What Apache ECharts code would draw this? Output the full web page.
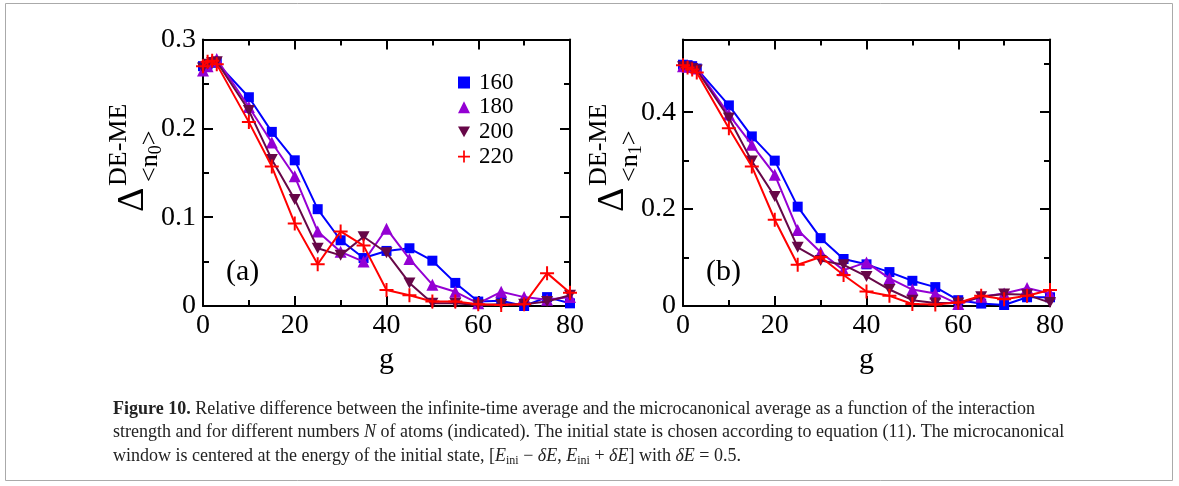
<!DOCTYPE html>
<html><head><meta charset="utf-8">
<script src="https://cdn.jsdelivr.net/npm/echarts@6/dist/echarts.min.js"></script>
<style>html,body{margin:0;padding:0;background:#fff}#c{width:1179px;height:486px}</style>
</head><body><div id="c"></div>
<script>
const gVals = [0,1,2,3,10,15,20,25,30,35,40,45,50,55,60,65,70,75,80];
const seriesNames = ['160','180','200','220'];
const a160 = [0.270,0.272,0.274,0.274,0.235,0.196,0.164,0.109,0.074,0.054,0.062,0.065,0.051,0.026,0.005,0.006,0.000,0.010,0.003];
const a180 = [0.265,0.270,0.276,0.278,0.224,0.184,0.146,0.084,0.061,0.050,0.087,0.053,0.024,0.016,0.003,0.016,0.010,0.007,0.010];
const a200 = [0.268,0.272,0.274,0.275,0.220,0.165,0.120,0.065,0.057,0.078,0.060,0.026,0.003,0.003,0.001,0.002,0.002,0.005,0.012];
const a220 = [0.270,0.275,0.276,0.272,0.207,0.157,0.093,0.047,0.084,0.068,0.018,0.012,0.005,0.005,0.002,0.001,0.002,0.037,0.015];
const b160 = [0.498,0.497,0.495,0.490,0.414,0.350,0.300,0.205,0.140,0.097,0.086,0.070,0.052,0.039,0.012,0.005,0.002,0.018,0.018];
const b180 = [0.495,0.494,0.493,0.490,0.395,0.333,0.271,0.157,0.111,0.074,0.090,0.057,0.034,0.026,0.004,0.019,0.026,0.037,0.026];
const b200 = [0.494,0.493,0.490,0.487,0.388,0.299,0.226,0.121,0.094,0.085,0.061,0.034,0.012,0.006,0.006,0.019,0.025,0.023,0.007];
const b220 = [0.497,0.492,0.488,0.482,0.367,0.288,0.178,0.085,0.101,0.064,0.030,0.021,0.004,0.003,0.007,0.021,0.014,0.021,0.033];
const xTicks = [0,20,40,60,80];
const yTicksA = [0,0.1,0.2,0.3];
const yTicksB = [0,0.2,0.4];
const yMinorB = [0.1,0.3,0.5];
const captionLines = [
  '{b|Figure 10.} Relative difference between the infinite-time average and the microcanonical average as a function of the interaction',
  'strength and for different numbers {i|N} of atoms (indicated). The initial state is chosen according to equation ({l|11}). The microcanonical',
  'window is centered at the energy of the initial state, [{i|E}{s|ini} − {i|δE}, {i|E}{s|ini} + {i|δE}] with {i|δE} = 0.5.'
];

const colors = ['#0000ff','#9400d3','#670748','#ff0000'];
const downTri = 'path://M0,0L10,0L5,9Z';
const plus = 'path://M6,0H8V6H14V8H8V14H6V8H0V6H6Z';
const symbols = ['rect','triangle',downTri,plus];
const symSizes = [10,12,[12,11],14];
const FONT = 'Liberation Serif';

const chart = echarts.init(document.getElementById('c'));

const grids = [
  {left:203, top:39.5, width:367, height:266.5},
  {left:683, top:39.5, width:367, height:266.5}
];
function xAx(gi, pos, labels){
  return {type:'value', gridIndex:gi, position:pos, min:0, max:80, interval:20,
    axisLine:{show:true, onZero:false, lineStyle:{color:'#000', width:2}},
    axisTick:{show:true, inside:true, length:10, lineStyle:{color:'#000', width:2}},
    minorTick:{show:true, splitNumber:2, length:6, lineStyle:{color:'#000', width:2}},
    splitLine:{show:false},
    axisLabel:{show:labels, margin:6, fontFamily:FONT, fontSize:28, color:'#000', customValues: xTicks},
    name: labels ? 'g' : '', nameLocation:'middle', nameGap:29,
    nameTextStyle:{fontFamily:FONT, fontSize:30, color:'#000'}};
}
function yAxA(pos, labels){
  return {type:'value', gridIndex:0, position:pos, min:0, max:0.3, interval:0.1,
    axisLine:{show:true, onZero:false, lineStyle:{color:'#000', width:2}},
    axisTick:{show:true, inside:true, length:10, lineStyle:{color:'#000', width:2}},
    minorTick:{show:true, splitNumber:2, length:6, lineStyle:{color:'#000', width:2}},
    splitLine:{show:false},
    axisLabel:{show:labels, margin:7, fontFamily:FONT, fontSize:28, color:'#000',
      customValues: yTicksA}};
}
function yAxB(pos, labels, minor){
  return {type:'value', gridIndex:1, position:pos, min:0, max:0.55, interval:0.1,
    axisLine:{show:!minor, onZero:false, lineStyle:{color:'#000', width:2}},
    axisTick:{show:true, inside:true, length: minor?6:10, lineStyle:{color:'#000', width:2},
      customValues: minor ? yMinorB : yTicksB},
    splitLine:{show:false},
    axisLabel:{show:labels, margin:7, fontFamily:FONT, fontSize:28, color:'#000',
      customValues: yTicksB}};
}

const aData = [a160,a180,a200,a220];
const bData = [b160,b180,b200,b220];
const series = [];
[aData,bData].forEach((set, p) => {
  set.forEach((vals, i) => {
    series.push({
      type:'line', name: seriesNames[i],
      xAxisIndex: p===0?0:2, yAxisIndex: p===0?0:2,
      data: gVals.map((g,k)=>[g, vals[k]]),
      symbol: symbols[i], symbolSize: symSizes[i],
      showAllSymbol:true, clip:false, animation:false,
      itemStyle:{color: colors[i]},
      lineStyle:{color: colors[i], width:2},
      z: 2+i
    });
  });
});

function yTitle(x, y, sub){
  return {type:'group', x:x, y:y, rotation:Math.PI/2, children:[
    {type:'text', x:0, y:0, style:{text:'Δ', font:'38px "'+FONT+'"', fill:'#000', textVerticalAlign:'bottom'}},
    {type:'text', x:26, y:-20, style:{text:'DE-ME', font:'26px "'+FONT+'"', fill:'#000', textVerticalAlign:'bottom'}},
    {type:'text', x:30, y:13, style:{text:'{a|<n}{s|'+sub+'}{a|>}', fill:'#000', textVerticalAlign:'bottom',
      rich:{a:{fontFamily:FONT, fontSize:26}, s:{fontFamily:FONT, fontSize:18, padding:[12,0,0,0]}}}}
  ]};
}

const captionRich = {
  b:{fontFamily:FONT, fontSize:18, fontWeight:'bold', color:'#222'},
  i:{fontFamily:FONT, fontSize:18, fontStyle:'italic', color:'#222'},
  s:{fontFamily:FONT, fontSize:12, color:'#222', padding:[9,0,0,0]},
  l:{fontFamily:FONT, fontSize:18, color:'#2a8ab8'}
};

chart.setOption({
  animation:false,
  backgroundColor:'#fff',
  grid: grids,
  xAxis: [xAx(0,'bottom',true), xAx(0,'top',false), xAx(1,'bottom',true), xAx(1,'top',false)],
  yAxis: [yAxA('left',true), yAxA('right',false), yAxB('left',true,false), yAxB('left',false,true), yAxB('right',false,false), yAxB('right',false,true)],
  legend:{show:true, orient:'vertical', left:453, top:66, itemWidth:12, itemHeight:12, itemGap:1.7,
    selectedMode:false,
    textStyle:{fontFamily:FONT, fontSize:23, color:'#000', lineHeight:23, padding:[0,0,0,4]},
    data: seriesNames.map((n,i)=>({name:n, icon: symbols[i], itemStyle:{color:colors[i]}}))},
  series: series,
  graphic: [
    {type:'rect', shape:{x:5.5, y:3.5, width:1167, height:477}, style:{fill:'none', stroke:'#aaa', lineWidth:1}, silent:true},
    yTitle(152, 212, '0'),
    yTitle(632, 212, '1'),
    {type:'text', x:226, y:272, style:{text:'(a)', font:'30px "'+FONT+'"', fill:'#000', textVerticalAlign:'middle'}},
    {type:'text', x:706, y:272, style:{text:'(b)', font:'30px "'+FONT+'"', fill:'#000', textVerticalAlign:'middle'}},
    ...captionLines.map((t,k)=>({type:'text', x:113, y:409+k*23.5,
      style:{text:t, fill:'#222', fontFamily:FONT, fontSize:18, textVerticalAlign:'middle', rich:captionRich}}))
  ]
});
</script></body></html>
